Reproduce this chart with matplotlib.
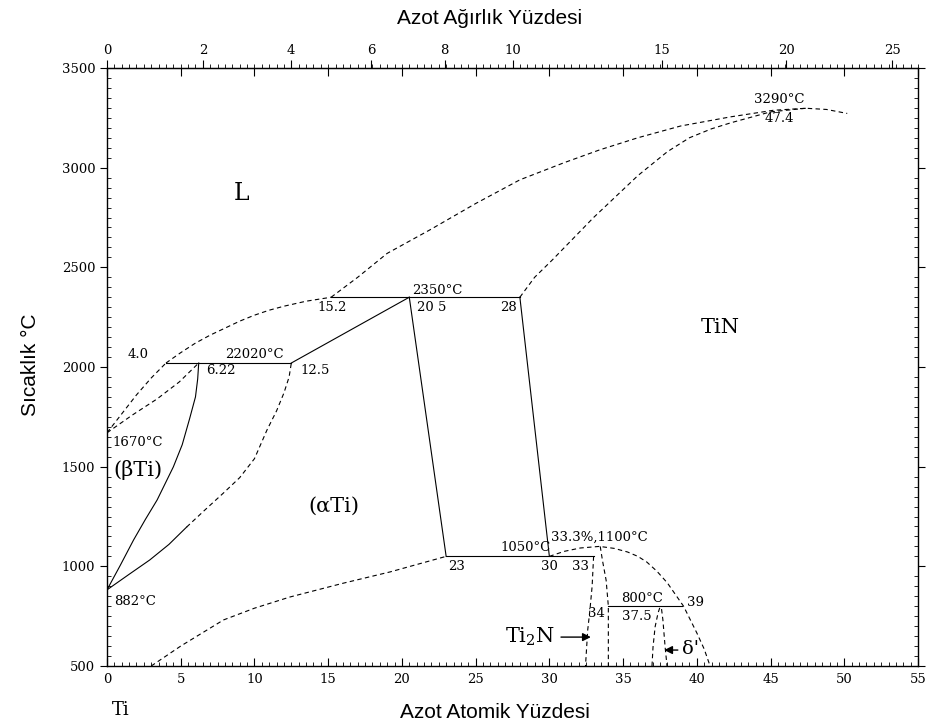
import numpy as np
import matplotlib.pyplot as plt
from matplotlib.ticker import MultipleLocator, FixedLocator

# atomic % N vs temperature
liq_beta_x = [0.0, 1.0, 2.0, 3.0, 4.0]
liq_beta_y = [1670, 1765, 1860, 1945, 2020]
liq_mid_x = [4.0, 5.0, 6.0, 7.0, 8.0, 9.0, 10.0, 11.0, 12.0, 13.5, 15.2]
liq_mid_y = [2020, 2072, 2120, 2160, 2195, 2230, 2260, 2285, 2305, 2330, 2350]
liq_top_x = [15.2, 17.0, 19.0, 21.9, 25.0, 28.0, 31.0, 33.4, 36.0, 38.9, 42.3, 45.2, 47.4, 48.8, 50.2]
liq_top_y = [2350, 2450, 2570, 2688, 2820, 2939, 3025, 3089, 3150, 3209, 3255, 3288, 3298, 3292, 3272]
tin_sol_x = [28.0, 29.0, 30.2, 33.0, 36.0, 38.0, 39.5, 41.0, 42.3, 45.0, 47.4]
tin_sol_y = [2350, 2450, 2537, 2750, 2960, 3080, 3150, 3195, 3225, 3280, 3298]
beta_sol_x = [0.0, 1.7, 3.4, 4.9, 6.22]
beta_sol_y = [1670, 1758, 1840, 1925, 2020]
beta_solv_x = [0.0, 0.9, 1.8, 2.6, 3.4, 4.5, 5.1, 5.6, 6.0, 6.15, 6.22]
beta_solv_y = [882, 1005, 1132, 1235, 1333, 1499, 1610, 1740, 1850, 1940, 2020]
alpha_lo_x = [0.0, 1.5, 2.9, 4.2, 5.4]
alpha_lo_y = [882, 960, 1032, 1110, 1197]
alpha_hi_x = [5.4, 6.6, 7.9, 9.0, 10.0, 10.85, 11.5, 12.0, 12.35, 12.5]
alpha_hi_y = [1197, 1280, 1368, 1445, 1540, 1684, 1780, 1870, 1950, 2020]
alpha_n_x = [3.0, 5.0, 7.9, 10.0, 12.4, 16.0, 19.2, 23.0]
alpha_n_y = [500, 600, 731, 790, 846, 915, 972, 1050]
dome_x = [30.0, 31.0, 32.1, 33.4, 34.4, 35.3, 36.0, 36.6, 37.3, 38.0, 39.1, 40.0, 40.5, 40.9]
dome_y = [1050, 1075, 1092, 1100, 1090, 1072, 1050, 1022, 975, 917, 800, 666, 585, 500]
ti2n_l_x = [33.0, 32.9, 32.75, 32.6, 32.45]
ti2n_l_y = [1050, 900, 780, 680, 500]
ti2n_r_x = [33.45, 33.6, 33.85, 34.0, 34.0]
ti2n_r_y = [1100, 1030, 930, 800, 500]
delta_x = [36.96, 37.03, 37.17, 37.37, 37.5, 37.6, 37.7, 37.85, 37.98]
delta_y = [500, 595, 696, 766, 795, 790, 731, 595, 500]

# invariant lines (x from, x to, T)
iso_lines = [(4.0, 12.5, 2020), (15.2, 28.0, 2350), (23.0, 33.0, 1050), (34.0, 39.0, 800)]
solid_segs = [([12.5, 20.5], [2020, 2350]), ([20.5, 23.0], [2350, 1050]), ([28.0, 30.0], [2350, 1050])]

wt_ticks = [0, 2, 4, 6, 8, 10, 15, 20, 25]

M_N, M_TI = 14.007, 47.867


def at2wt(a):
    a = np.asarray(a, dtype=float)
    return 100 * a * M_N / (a * M_N + (100 - a) * M_TI)


def wt2at(w):
    w = np.asarray(w, dtype=float)
    n = w / M_N
    t = (100 - w) / M_TI
    return 100 * n / (n + t)


serif = 'DejaVu Serif'
sans = 'Liberation Sans'

fig = plt.figure(figsize=(9.28, 7.28), dpi=100)
ax = fig.add_axes([107 / 928, 62 / 728, 811 / 928, 598 / 728])

lw = 0.8
dash = (0, (4, 3))
k = 'black'

for xs, ys in [(liq_beta_x, liq_beta_y), (liq_mid_x, liq_mid_y), (liq_top_x, liq_top_y),
               (tin_sol_x, tin_sol_y), (beta_sol_x, beta_sol_y), (alpha_hi_x, alpha_hi_y),
               (alpha_n_x, alpha_n_y), (dome_x, dome_y), (ti2n_l_x, ti2n_l_y),
               (ti2n_r_x, ti2n_r_y), (delta_x, delta_y)]:
    ax.plot(xs, ys, color=k, lw=lw, ls=dash)

ax.plot(beta_solv_x, beta_solv_y, color=k, lw=lw)
ax.plot(alpha_lo_x, alpha_lo_y, color=k, lw=lw)
for x0, x1, t in iso_lines:
    ax.plot([x0, x1], [t, t], color=k, lw=lw)
for xs, ys in solid_segs:
    ax.plot(xs, ys, color=k, lw=lw)

ax.set_xlim(0, 55)
ax.set_ylim(500, 3500)

# annotations
fs = 9.5
notes = [
    (22.4, 2385, '2350°C'), (22.0, 2300, '20 5'), (27.2, 2300, '28'), (15.3, 2300, '15.2'),
    (10.0, 2065, '22020°C'), (2.1, 2065, '4.0'), (7.7, 1983, '6.22'), (14.1, 1983, '12.5'),
    (2.1, 1620, '1670°C'), (1.9, 826, '882°C'), (28.4, 1092, '1050°C'), (23.7, 1000, '23'),
    (30.0, 1000, '30'), (32.1, 1000, '33'), (33.4, 1147, '33.3%,1100°C'),
    (36.3, 838, '800°C'), (35.9, 748, '37.5'), (39.9, 820, '39'), (33.2, 765, '34'),
    (45.6, 3340, '3290°C'), (45.6, 3248, '47.4'),
]
for x, y, s in notes:
    ax.text(x, y, s, fontsize=fs, family=serif, ha='center', va='center')

ax.text(9.1, 2868, 'L', fontsize=17, family=serif, ha='center', va='center')
ax.text(41.6, 2200, 'TiN', fontsize=15, family=serif, ha='center', va='center')
ax.text(2.1, 1485, '(βTi)', fontsize=15, family=serif, ha='center', va='center')
ax.text(15.4, 1303, '(αTi)', fontsize=15, family=serif, ha='center', va='center')
ax.text(28.7, 645, 'Ti$_2$N', fontsize=15, family=serif, ha='center', va='center',
        math_fontfamily='dejavuserif')
ax.text(39.6, 585, "δ'", fontsize=14, family=serif, ha='center', va='center')
ax.annotate('', xy=(33.0, 645), xytext=(30.6, 645),
            arrowprops=dict(arrowstyle='-|>', color=k, lw=1, mutation_scale=12))
ax.annotate('', xy=(37.6, 580), xytext=(38.9, 580),
            arrowprops=dict(arrowstyle='-|>', color=k, lw=1, mutation_scale=12))
ax.text(0.9, 280, 'Ti', fontsize=13, family=serif, ha='center', va='center', clip_on=False)

# ticks
for s in ax.spines.values():
    s.set_linewidth(1)
ax.xaxis.set_major_locator(MultipleLocator(5))
ax.xaxis.set_minor_locator(MultipleLocator(0.5))
ax.yaxis.set_major_locator(MultipleLocator(500))
ax.yaxis.set_minor_locator(MultipleLocator(50))
ax.tick_params(axis='x', which='major', direction='in', length=6, top=True, labelsize=9.5, pad=5)
ax.tick_params(axis='x', which='minor', direction='in', length=3, top=False)
ax.tick_params(axis='y', which='major', direction='out', length=5, right=True, labelsize=9.5)
ax.tick_params(axis='y', which='minor', direction='in', length=3)
ax.tick_params(axis='y', which='minor', right=True)
for lab in ax.get_xticklabels() + ax.get_yticklabels():
    lab.set_family(serif)

sec = ax.secondary_xaxis('top', functions=(at2wt, wt2at))
sec.xaxis.set_major_locator(FixedLocator(wt_ticks))
sec.xaxis.set_minor_locator(FixedLocator(at2wt(np.arange(0, 55.01, 0.5))))
sec.tick_params(which='major', direction='out', length=6, labelsize=9.5, pad=2)
sec.tick_params(which='minor', direction='out', length=3)
for lab in sec.get_xticklabels():
    lab.set_family(serif)

fig.text(490 / 928, 1 - 18 / 728, 'Azot Ağırlık Yüzdesi', fontsize=15, family=sans,
         ha='center', va='center')
fig.text(495 / 928, 1 - 712 / 728, 'Azot Atomik Yüzdesi', fontsize=15, family=sans,
         ha='center', va='center')
fig.text(30 / 928, 1 - 365 / 728, 'Sıcaklık °C', fontsize=15, family=sans,
         ha='center', va='center', rotation=90)

fig.savefig('out.png', dpi=100)
